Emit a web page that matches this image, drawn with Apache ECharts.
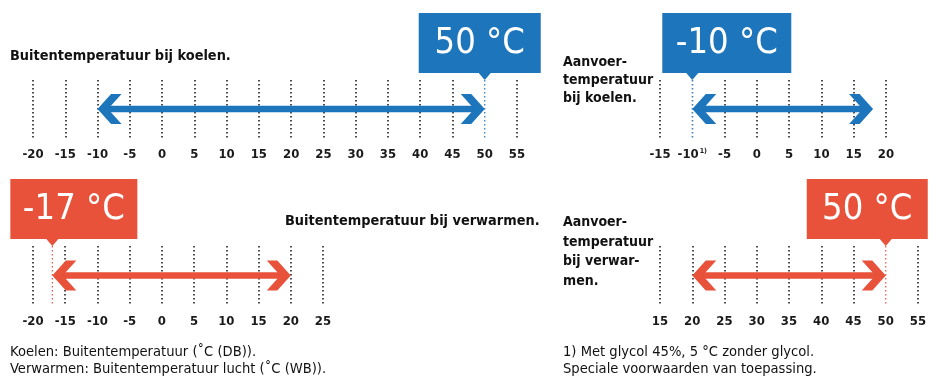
<!DOCTYPE html>
<html>
<head>
<meta charset="utf-8">
<script src="https://cdn.jsdelivr.net/npm/echarts@6/dist/echarts.min.js"></script>
<style>
  html, body { margin: 0; padding: 0; background: #fff; }
  #chart { width: 939px; height: 376px; }
</style>
</head>
<body>
<div id="chart"></div>
<script>
// Operating ranges (°C): axis extents, arrow ranges and the highlighted limit
const coolOutdoorAxis = [-20, 55];
const coolOutdoorRange = [-10, 50];
const coolOutdoorLimit = 50;

const coolSupplyAxis = [-15, 20];
const coolSupplyRange = [-10, 18];
const coolSupplyLimit = -10;

const heatOutdoorAxis = [-20, 25];
const heatOutdoorRange = [-17, 20];
const heatOutdoorLimit = -17;

const heatSupplyAxis = [15, 55];
const heatSupplyRange = [20, 50];
const heatSupplyLimit = 50;

const tickStep = 5;
const footnoteTick = -10; // supply tick carrying footnote 1)

const BLUE = '#1d75bb';
const RED = '#e8513a';
const COND = "'DejaVu Sans Condensed', 'Liberation Sans Narrow', 'Roboto', sans-serif";

const panels = [
  { axis: coolOutdoorAxis, range: coolOutdoorRange, limit: coolOutdoorLimit, color: BLUE,
    grid: { left: 33, top: 80, width: 484, height: 58 }, box: { w: 122, off: 66 } },
  { axis: coolSupplyAxis, range: coolSupplyRange, limit: coolSupplyLimit, color: BLUE,
    grid: { left: 660, top: 80, width: 226, height: 58 }, box: { w: 129, off: 30 }, sup: true },
  { axis: heatOutdoorAxis, range: heatOutdoorRange, limit: heatOutdoorLimit, color: RED,
    grid: { left: 33, top: 246, width: 290, height: 59 }, box: { w: 127, off: 42 } },
  { axis: heatSupplyAxis, range: heatSupplyRange, limit: heatSupplyLimit, color: RED,
    grid: { left: 660, top: 246, width: 258, height: 59 }, box: { w: 121, off: 79 } }
];

function chevron(tipX, y, dir, color) {
  // dir = 1 points right, -1 points left
  const back = 24, half = 15, arm = 10.5;
  return {
    type: 'polygon',
    shape: { points: [
      [tipX, y],
      [tipX - dir * (back - arm), y - half],
      [tipX - dir * back, y - half],
      [tipX - dir * arm, y],
      [tipX - dir * back, y + half],
      [tipX - dir * (back - arm), y + half]
    ] },
    style: { fill: color }
  };
}

function makeRender(p) {
  return function (params, api) {
    const start = api.value(0), end = api.value(1), limit = api.value(2);
    const a = api.coord([start, 0.5]);
    const b = api.coord([end, 0.5]);
    const lim = api.coord([limit, 1]);
    const limBottom = api.coord([limit, 0]);
    const y = a[1];
    const top = lim[1];
    const boxBottom = top - 7;
    const boxTop = boxBottom - 60;
    const boxLeft = lim[0] - p.box.off;
    const label = limit + ' °C';
    return {
      type: 'group',
      children: [
        // mask the black dotted split line at the limit, then redraw it in colour
        { type: 'line', shape: { x1: lim[0], y1: top, x2: lim[0], y2: limBottom[1] },
          style: { stroke: '#fff', lineWidth: 3 } },
        { type: 'line', shape: { x1: lim[0], y1: top, x2: lim[0], y2: limBottom[1] },
          style: { stroke: p.color, lineWidth: 1.2, lineDash: [1.5, 2.5] } },
        { type: 'rect', shape: { x: a[0] + 6, y: y - 3.25, width: b[0] - a[0] - 12, height: 6.5 },
          style: { fill: p.color } },
        chevron(a[0], y, -1, p.color),
        chevron(b[0], y, 1, p.color),
        { type: 'rect', shape: { x: boxLeft, y: boxTop, width: p.box.w, height: 60 },
          style: { fill: p.color } },
        { type: 'polygon', shape: { points: [[lim[0] - 6, boxBottom], [lim[0] + 6, boxBottom], [lim[0], top]] },
          style: { fill: p.color } },
        { type: 'text', x: boxLeft + p.box.w / 2, y: boxTop + 31,
          style: { text: label, fill: '#fff', font: '36px ' + COND, align: 'center', verticalAlign: 'middle' } }
      ]
    };
  };
}

const option = {
  animation: false,
  grid: panels.map(p => Object.assign({ containLabel: false }, p.grid)),
  xAxis: panels.map((p, i) => ({
    type: 'value', gridIndex: i, min: p.axis[0], max: p.axis[1], interval: tickStep,
    axisLine: { show: false }, axisTick: { show: false },
    splitLine: { show: true, lineStyle: { color: '#111', width: 1.5, type: [1.5, 2.5] } },
    axisLabel: {
      margin: 10, color: '#1a1a1a', fontSize: 13, fontWeight: 'bold', fontFamily: COND,
      formatter: v => (p.sup && v === footnoteTick) ? v + '{sup|1)}' : String(v),
      rich: { sup: { fontSize: 7, fontWeight: 'bold', fontFamily: COND, color: '#1a1a1a', padding: [0, 0, 6, 1] } }
    }
  })),
  yAxis: panels.map((p, i) => ({ type: 'value', gridIndex: i, min: 0, max: 1, show: false })),
  series: panels.map((p, i) => ({
    type: 'custom', xAxisIndex: i, yAxisIndex: i, clip: false,
    renderItem: makeRender(p),
    data: [[p.range[0], p.range[1], p.limit]]
  })),
  graphic: [
    { type: 'text', left: 10, top: 49, style: { text: 'Buitentemperatuur bij koelen.', font: 'bold 14.4px ' + COND, fill: '#111' } },
    { type: 'text', left: 285, top: 214, style: { text: 'Buitentemperatuur bij verwarmen.', font: 'bold 14.4px ' + COND, fill: '#111' } },
    { type: 'text', left: 563, top: 53, style: { text: 'Aanvoer-\ntemperatuur\nbij koelen.', font: 'bold 14px ' + COND, lineHeight: 18, fill: '#111' } },
    { type: 'text', left: 563, top: 213, style: { text: 'Aanvoer-\ntemperatuur\nbij verwar-\nmen.', font: 'bold 14px ' + COND, lineHeight: 19.5, fill: '#111' } },
    { type: 'text', left: 10, top: 344, style: { text: 'Koelen: Buitentemperatuur (˚C (DB)).\nVerwarmen: Buitentemperatuur lucht (˚C (WB)).', font: '14.6px ' + COND, lineHeight: 17, fill: '#111' } },
    { type: 'text', left: 563, top: 344, style: { text: '1) Met glycol 45%, 5 °C zonder glycol.\nSpeciale voorwaarden van toepassing.', font: '14.6px ' + COND, lineHeight: 17, fill: '#111' } }
  ]
};

const chart = echarts.init(document.getElementById('chart'), null, { renderer: 'canvas' });
chart.setOption(option);
</script>
</body>
</html>
